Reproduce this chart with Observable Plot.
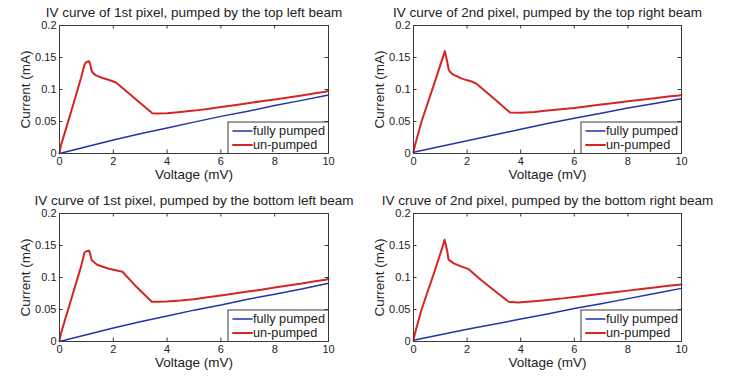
<!DOCTYPE html>
<html><head><meta charset="utf-8">
<script src="https://cdn.jsdelivr.net/npm/d3@7"></script>
<script src="https://cdn.jsdelivr.net/npm/@observablehq/plot@0.6"></script>
<style>
body{margin:0;background:#fff;}
#wrap{position:relative;width:734px;height:377px;overflow:hidden;background:#fff;}
#wrap > div{position:absolute;}
</style></head><body><div id="wrap"></div>
<script>
const titles = [
  "IV curve of 1st pixel, pumped by the top left beam",
  "IV curve of 2nd pixel, pumped by the top right beam",
  "IV curve of 1st pixel, pumped by the bottom left beam",
  "IV cruve of 2nd pixel, pumped by the bottom right beam"
];
const xLabel = "Voltage (mV)";
const yLabel = "Current (mA)";
const seriesNames = ["fully pumped", "un-pumped"];
const xTicks = [0, 2, 4, 6, 8, 10];
const yTicks = [0, 0.05, 0.1, 0.15, 0.2];

// Panel 1 (top left)
const p1RedV = [0, 0.05, 0.2, 0.5, 0.8, 0.93, 1.0, 1.1, 1.15, 1.2, 1.35, 1.6, 1.9, 2.1, 3.45, 3.6, 4.0, 4.5, 5.0, 5.5, 6.0, 6.5, 7.0, 7.5, 8.0, 8.5, 9.0, 9.5, 9.9, 10];
const p1RedI = [0.001, 0.012, 0.033, 0.075, 0.118, 0.139, 0.143, 0.144, 0.138, 0.128, 0.122, 0.118, 0.114, 0.111, 0.063, 0.0625, 0.063, 0.065, 0.067, 0.0695, 0.0725, 0.0755, 0.0785, 0.0815, 0.0845, 0.0875, 0.0905, 0.094, 0.0965, 0.0985];
const p1BlueV = [0, 1, 2, 3, 4, 5, 6, 7, 8, 9, 10];
const p1BlueI = [0, 0.0105, 0.021, 0.031, 0.040, 0.049, 0.058, 0.066, 0.075, 0.083, 0.0915];

// Panel 2 (top right)
const p2RedV = [0, 0.05, 0.3, 0.75, 1.0, 1.17, 1.25, 1.32, 1.45, 1.8, 2.2, 2.35, 3.0, 3.6, 4.0, 4.5, 5.0, 5.5, 6.0, 6.5, 7.0, 7.5, 8.0, 8.5, 9.0, 9.5, 10];
const p2RedI = [0.002, 0.012, 0.05, 0.106, 0.138, 0.160, 0.145, 0.130, 0.124, 0.117, 0.112, 0.109, 0.086, 0.064, 0.0635, 0.065, 0.067, 0.069, 0.071, 0.074, 0.0765, 0.079, 0.0815, 0.084, 0.0865, 0.089, 0.091];
const p2BlueV = [0, 1, 2, 3, 4, 5, 6, 7, 8, 9, 10];
const p2BlueI = [0.002, 0.011, 0.020, 0.029, 0.038, 0.047, 0.055, 0.063, 0.071, 0.078, 0.0855];

// Panel 3 (bottom left)
const p3RedV = [0, 0.05, 0.2, 0.5, 0.8, 0.93, 1.0, 1.1, 1.15, 1.2, 1.4, 1.8, 2.34, 2.8, 3.43, 3.6, 4.0, 4.5, 5.0, 5.5, 6.0, 6.5, 7.0, 7.5, 8.0, 8.5, 9.0, 9.5, 9.9, 10];
const p3RedI = [0.001, 0.012, 0.033, 0.075, 0.117, 0.139, 0.141, 0.142, 0.135, 0.127, 0.120, 0.114, 0.109, 0.088, 0.062, 0.062, 0.0625, 0.064, 0.066, 0.069, 0.072, 0.075, 0.078, 0.081, 0.0845, 0.0875, 0.0905, 0.094, 0.0965, 0.098];
const p3BlueV = [0, 1, 2, 3, 4, 5, 6, 7, 8, 9, 10];
const p3BlueI = [0, 0.0105, 0.021, 0.031, 0.040, 0.049, 0.057, 0.066, 0.074, 0.082, 0.091];

// Panel 4 (bottom right)
const p4RedV = [0, 0.05, 0.3, 0.75, 1.0, 1.16, 1.25, 1.31, 1.5, 1.8, 2.06, 2.5, 3.0, 3.55, 3.9, 4.5, 5.0, 5.5, 6.0, 6.5, 7.0, 7.5, 8.0, 8.5, 9.0, 9.5, 10];
const p4RedI = [0.002, 0.012, 0.05, 0.105, 0.137, 0.159, 0.143, 0.128, 0.122, 0.117, 0.113, 0.097, 0.080, 0.062, 0.061, 0.063, 0.065, 0.067, 0.0695, 0.072, 0.0745, 0.077, 0.0795, 0.082, 0.0845, 0.087, 0.089];
const p4BlueV = [0, 1, 2, 3, 4, 5, 6, 7, 8, 9, 10];
const p4BlueI = [0.002, 0.0105, 0.019, 0.027, 0.035, 0.043, 0.0515, 0.059, 0.067, 0.075, 0.083];

const FONT = '"Liberation Sans", Arial, sans-serif';
const BLUE = "#2233aa";
const RED = "#d42525";
const AXIS = "#3a3a3a";
const TEXT = "#222";

const panels = [
  {title: titles[0], rV: p1RedV, rI: p1RedI, bV: p1BlueV, bI: p1BlueI, left: 0, top: 0, mR: 39},
  {title: titles[1], rV: p2RedV, rI: p2RedI, bV: p2BlueV, bI: p2BlueI, left: 354, top: 0, mR: 40},
  {title: titles[2], rV: p3RedV, rI: p3RedI, bV: p3BlueV, bI: p3BlueI, left: 0, top: 188, mR: 39},
  {title: titles[3], rV: p4RedV, rI: p4RedI, bV: p4BlueV, bI: p4BlueI, left: 354, top: 188, mR: 40}
];

const legShape = {draw(context, l) { context.moveTo(0, 0); context.lineTo(0, -l); }};

function panel(cfg) {
  const red = cfg.rV.map((v, i) => ({V: v, I: cfg.rI[i]}));
  const blue = cfg.bV.map((v, i) => ({V: v, I: cfg.bI[i]}));
  const W = 367, H = 188, mL = 59, mR = cfg.mR, mT = 25, mB = 35;
  const fw = W - mL - mR, fh = H - mT - mB;
  const tk = 3.5;
  const legW = 100.5, legH = 31.5;
  return Plot.plot({
    width: W, height: H,
    marginLeft: mL, marginRight: mR, marginTop: mT, marginBottom: mB,
    style: {fontFamily: FONT, fontSize: "11px", color: TEXT, background: "transparent", overflow: "visible"},
    x: {domain: [0, 10]},
    y: {domain: [0, 0.2]},
    marks: [
      Plot.line(blue, {x: "V", y: "I", stroke: BLUE, strokeWidth: 1.5}),
      Plot.line(red, {x: "V", y: "I", stroke: RED, strokeWidth: 2}),
      Plot.ruleX(xTicks, {x: d => d, insetTop: fh - tk, stroke: AXIS}),
      Plot.ruleX(xTicks, {x: d => d, insetBottom: fh - tk, stroke: AXIS}),
      Plot.ruleY(yTicks, {y: d => d, insetRight: fw - tk, stroke: AXIS}),
      Plot.ruleY(yTicks, {y: d => d, insetLeft: fw - tk, stroke: AXIS}),
      Plot.frame({insetLeft: fw - legW, insetTop: fh - legH, fill: "white", stroke: AXIS, strokeWidth: 1}),
      Plot.vector([seriesNames[0]], {frameAnchor: "bottom-right", dx: -95.5, dy: -22.5, length: 19, rotate: 90, anchor: "start", shape: legShape, stroke: BLUE, strokeWidth: 1.5}),
      Plot.vector([seriesNames[1]], {frameAnchor: "bottom-right", dx: -95.5, dy: -8.5, length: 19, rotate: 90, anchor: "start", shape: legShape, stroke: RED, strokeWidth: 2}),
      Plot.text([seriesNames[0]], {frameAnchor: "bottom-right", dx: -75.5, dy: -22.5, textAnchor: "start", lineAnchor: "middle", fontSize: 12.7, fill: TEXT}),
      Plot.text([seriesNames[1]], {frameAnchor: "bottom-right", dx: -75.5, dy: -8.5, textAnchor: "start", lineAnchor: "middle", fontSize: 12.7, fill: TEXT}),
      Plot.frame({stroke: AXIS, strokeWidth: 1}),
      Plot.axisX(xTicks, {tickSize: 0, tickPadding: 4, label: null, fontSize: 11}),
      Plot.axisY(yTicks, {tickSize: 0, tickPadding: 3, label: null, fontSize: 11, tickFormat: d => String(d)}),
      Plot.text([cfg.title], {frameAnchor: "top", dy: -12.5, textAnchor: "middle", lineAnchor: "middle", fontSize: 13.5, fill: TEXT}),
      Plot.text([xLabel], {frameAnchor: "bottom", dy: 20.7, textAnchor: "middle", lineAnchor: "middle", fontSize: 13.5, fill: TEXT}),
      Plot.text([yLabel], {frameAnchor: "left", dx: -34.3, rotate: -90, textAnchor: "middle", lineAnchor: "middle", fontSize: 13.5, fill: TEXT})
    ]
  });
}

const wrap = document.getElementById("wrap");
for (const cfg of panels) {
  const d = document.createElement("div");
  d.style.left = cfg.left + "px";
  d.style.top = cfg.top + "px";
  d.appendChild(panel(cfg));
  wrap.appendChild(d);
}
</script></body></html>
